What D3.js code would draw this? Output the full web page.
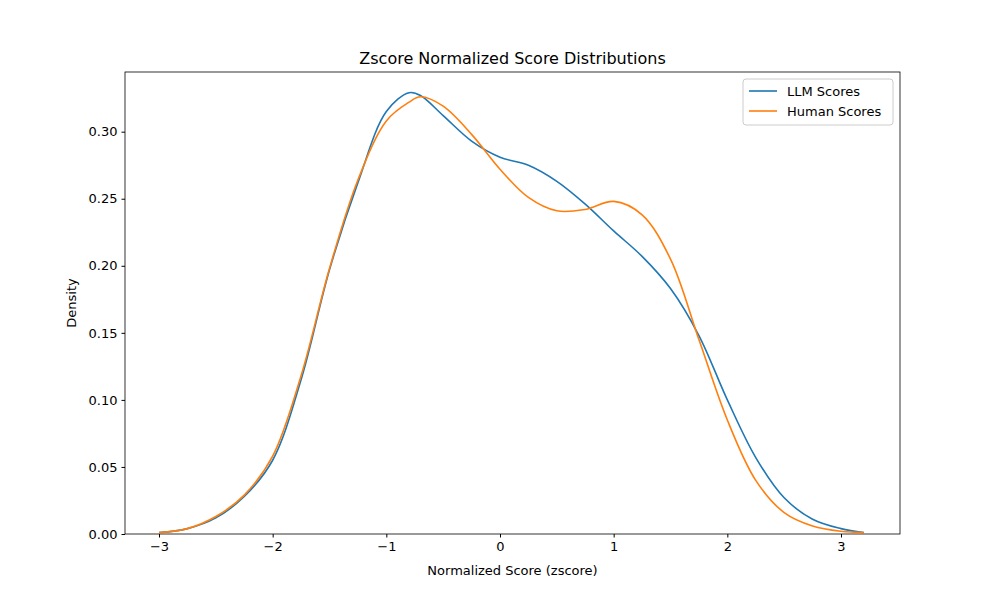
<!DOCTYPE html>
<html><head><meta charset="utf-8">
<script src="https://cdn.jsdelivr.net/npm/d3@7"></script>
<style>body{margin:0;background:#fff;font-family:"DejaVu Sans",sans-serif;}</style>
</head><body><div class="chart"></div>
<script>
var xs = [-3,-2.75,-2.5,-2.25,-2,-1.75,-1.5,-1.25,-1,-0.8,-0.7,-0.5,-0.25,0,0.25,0.5,0.75,1,1.25,1.5,1.75,2,2.25,2.5,2.75,3,3.2];
var llm = [0.001,0.004,0.012,0.028,0.055,0.115,0.197,0.262,0.315,0.329,0.327,0.312,0.293,0.281,0.275,0.263,0.246,0.226,0.207,0.183,0.148,0.100,0.057,0.027,0.011,0.004,0.001];
var human = [0.001,0.004,0.013,0.029,0.058,0.118,0.198,0.264,0.308,0.322,0.326,0.319,0.298,0.272,0.251,0.241,0.242,0.248,0.238,0.205,0.145,0.085,0.040,0.016,0.006,0.002,0.001];
var xTicks = [-3,-2,-1,0,1,2,3];
var yTicks = [0,0.05,0.10,0.15,0.20,0.25,0.30];

var W = 1000, H = 600, m = {top:72, right:100, bottom:66, left:125};
var width = W - m.left - m.right, height = H - m.top - m.bottom;
var svg = d3.select('.chart').append('svg').attr('width', W).attr('height', H);
var g = svg.append('g').attr('transform', 'translate(' + m.left + ',' + m.top + ')');

var x = d3.scaleLinear().domain([-3.299, 3.519]).range([0, width]);
var y = d3.scaleLinear().domain([0, 0.3445]).range([height, 0]);

var fmtX = function(d){ return d < 0 ? '\u2212' + Math.abs(d) : d; };
g.append('g').attr('transform', 'translate(0,' + height + ')')
  .call(d3.axisBottom(x).tickValues(xTicks).tickFormat(fmtX).tickSize(3.5).tickPadding(4));
g.append('g').call(d3.axisLeft(y).tickValues(yTicks).tickFormat(d3.format('.2f')).tickSize(3.5).tickPadding(4));
g.selectAll('.tick text').attr('font-size', 13).attr('font-family', 'DejaVu Sans').attr('fill', '#000');
g.selectAll('.domain').remove();
g.append('rect').attr('width', width).attr('height', height).attr('fill', 'none').attr('stroke', '#000').attr('stroke-width', 0.8);

var line = d3.line().x(function(d, i){ return x(xs[i]); }).y(function(d){ return y(d); }).curve(d3.curveCatmullRom.alpha(0.5));
g.append('path').datum(llm).attr('d', line).attr('fill', 'none').attr('stroke', '#1f77b4').attr('stroke-width', 1.6);
g.append('path').datum(human).attr('d', line).attr('fill', 'none').attr('stroke', '#ff7f0e').attr('stroke-width', 1.6);

svg.append('text').attr('x', m.left + width/2).attr('y', 64).attr('text-anchor', 'middle').attr('font-size', 16).text('Zscore Normalized Score Distributions');
svg.append('text').attr('x', m.left + width/2).attr('y', 575).attr('text-anchor', 'middle').attr('font-size', 13).text('Normalized Score (zscore)');
svg.append('text').attr('transform', 'translate(76,' + (m.top + height/2) + ') rotate(-90)').attr('text-anchor', 'middle').attr('font-size', 13).text('Density');

var lg = svg.append('g').attr('transform', 'translate(743,79)');
lg.append('rect').attr('width', 150).attr('height', 46).attr('rx', 3).attr('fill', '#fff').attr('stroke', '#ccc');
[['LLM Scores', '#1f77b4'], ['Human Scores', '#ff7f0e']].forEach(function(s, i){
  lg.append('line').attr('x1', 6).attr('x2', 34).attr('y1', 12 + i*20).attr('y2', 12 + i*20).attr('stroke', s[1]).attr('stroke-width', 1.6);
  lg.append('text').attr('x', 44).attr('y', 17 + i*20).attr('font-size', 13).text(s[0]);
});
</script></body></html>
